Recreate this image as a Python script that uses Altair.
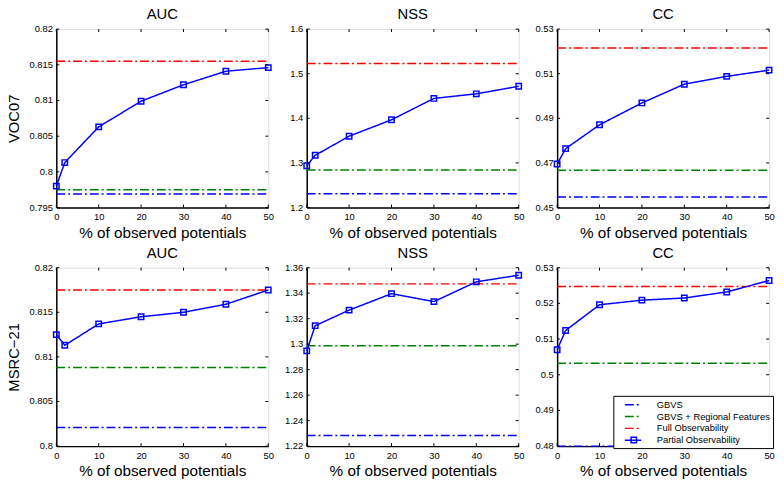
import altair as alt
import pandas as pd

# ---------------- data ----------------
x_obs = [0, 2, 10, 20, 30, 40, 50]
methods = ["GBVS", "GBVS + Regional Features", "Full Observability", "Partial Observability"]
method_colors = ["#0000FF", "#008000", "#FF0000", "#0000FF"]

datasets = ["VOC07", "MSRC\u221221"]
metrics = ["AUC", "NSS", "CC"]

# Partial observability curves
voc_auc = [0.7980, 0.8013, 0.8063, 0.8099, 0.8122, 0.8141, 0.8146]
voc_nss = [1.2936, 1.3171, 1.3599, 1.3967, 1.4446, 1.4549, 1.4718]
voc_cc = [0.4695, 0.4764, 0.4871, 0.4969, 0.5053, 0.5088, 0.5116]
msrc_auc = [0.8125, 0.8113, 0.8137, 0.8145, 0.8150, 0.8159, 0.8175]
msrc_nss = [1.2947, 1.3145, 1.3267, 1.3396, 1.3334, 1.3489, 1.3541]
msrc_cc = [0.5070, 0.5124, 0.5196, 0.5209, 0.5215, 0.5232, 0.5264]

# Baselines: [GBVS, GBVS + Regional Features, Full Observability]
voc_auc_base = [0.7969, 0.7975, 0.8155]
voc_nss_base = [1.231, 1.284, 1.523]
voc_cc_base = [0.4547, 0.4667, 0.5215]
msrc_auc_base = [0.8021, 0.8088, 0.8175]
msrc_nss_base = [1.2283, 1.2988, 1.3473]
msrc_cc_base = [0.4800, 0.5032, 0.5247]

# Axis tick values
x_ticks = [0, 10, 20, 30, 40, 50]
voc_auc_ticks = [0.795, 0.8, 0.805, 0.81, 0.815, 0.82]
voc_nss_ticks = [1.2, 1.3, 1.4, 1.5, 1.6]
voc_cc_ticks = [0.45, 0.47, 0.49, 0.51, 0.53]
msrc_auc_ticks = [0.8, 0.805, 0.81, 0.815, 0.82]
msrc_nss_ticks = [1.22, 1.24, 1.26, 1.28, 1.3, 1.32, 1.34, 1.36]
msrc_cc_ticks = [0.48, 0.49, 0.5, 0.51, 0.52, 0.53]

panels = [
    ("VOC07", "AUC", voc_auc, voc_auc_base, voc_auc_ticks),
    ("VOC07", "NSS", voc_nss, voc_nss_base, voc_nss_ticks),
    ("VOC07", "CC", voc_cc, voc_cc_base, voc_cc_ticks),
    ("MSRC\u221221", "AUC", msrc_auc, msrc_auc_base, msrc_auc_ticks),
    ("MSRC\u221221", "NSS", msrc_nss, msrc_nss_base, msrc_nss_ticks),
    ("MSRC\u221221", "CC", msrc_cc, msrc_cc_base, msrc_cc_ticks),
]

# ---------------- style ----------------
FONT = "Liberation Sans"
W, H = 215, 181
TK = 3
DASHDOT = [9, 3, 2, 3]
LINE_SYMBOL = "M-1.65,0H1.65"

color_scale = alt.Scale(domain=methods, range=method_colors)
dash_scale = alt.Scale(domain=methods, range=[DASHDOT, DASHDOT, DASHDOT, [1, 0]])
width_scale = alt.Scale(domain=methods, range=[1.5, 1.5, 1.5, 2])
marker_scale = alt.Scale(domain=[methods[3]], range=["square"])

legend = alt.Legend(
    title=None, orient="none", legendX=565, legendY=372,
    symbolType=LINE_SYMBOL, symbolSize=100, symbolStrokeWidth=1.5,
    symbolOffset=11, labelOffset=18,
    labelFont=FONT, labelFontSize=9.5, labelColor="black",
    strokeColor="black", fillColor="white", padding=3, rowPadding=1,
    labelLimit=300,
)
marker_legend = alt.Legend(
    title=None, orient="none", legendX=581, legendY=412,
    symbolSize=30, symbolStrokeWidth=1.5, symbolStrokeColor="#0000FF",
    symbolFillColor="white", padding=0, labelExpr="''", labelFontSize=9.5,
    labelFont=FONT,
)


def make_panel(ds, metric, vals, base, yticks, show_ytitle):
    rows = []
    for m, v in zip(methods[:3], base):
        rows.append({"method": m, "x": 0, "y": v})
        rows.append({"method": m, "x": 50, "y": v})
    for xv, yv in zip(x_obs, vals):
        rows.append({"method": methods[3], "x": xv, "y": yv})
    df = pd.DataFrame(rows)
    dfp = pd.DataFrame({"x": x_obs, "y": vals, "series": methods[3]})
    ydom = [min(yticks), max(yticks)]
    xscale = alt.Scale(domain=[0, 50], nice=False, zero=False)
    yscale = alt.Scale(domain=ydom, nice=False, zero=False)

    lines = alt.Chart(df).mark_line().encode(
        x=alt.X("x:Q", scale=xscale,
                axis=alt.Axis(values=x_ticks, title="% of observed potentials", ticks=False,
                              labelFont=FONT, labelFontSize=9.5, labelColor="black",
                              labelPadding=4.5, labelFlush=False, titleFont=FONT,
                              titleFontSize=15.5, titleFontWeight="normal", titleColor="black",
                              titlePadding=4, domainColor="black", domainWidth=1.5, grid=False)),
        y=alt.Y("y:Q", scale=yscale,
                axis=alt.Axis(values=yticks, title=ds if show_ytitle else None,
                              ticks=False, labels=False, titleFont=FONT, titleFontSize=15,
                              titleFontWeight="normal", titleColor="black", titlePadding=35,
                              domainColor="black", domainWidth=1.5, grid=False)),
        color=alt.Color("method:N", scale=color_scale, legend=legend),
        strokeDash=alt.StrokeDash("method:N", scale=dash_scale, legend=legend),
        strokeWidth=alt.StrokeWidth("method:N", scale=width_scale, legend=None),
    )
    pts = alt.Chart(dfp).mark_point(filled=False, size=30, strokeWidth=1.5,
                                    color="#0000FF", opacity=1).encode(
        x=alt.X("x:Q", scale=xscale),
        y=alt.Y("y:Q", scale=yscale),
        shape=alt.Shape("series:N", scale=marker_scale, legend=marker_legend),
    )
    ydf = pd.DataFrame({"y": yticks})
    xdf = pd.DataFrame({"x": x_ticks})
    ylab = alt.Chart(ydf).mark_text(align="right", baseline="middle", font=FONT,
                                    fontSize=9.5, color="black", dx=-3.5).encode(
        y=alt.Y("y:Q", scale=yscale), x=alt.value(0), text=alt.Text("y:Q", format="~g"))
    yl = alt.Chart(ydf).mark_rule(color="black", strokeWidth=1).encode(
        y=alt.Y("y:Q", scale=yscale), x=alt.value(0), x2=alt.value(TK))
    yr = alt.Chart(ydf).mark_rule(color="black", strokeWidth=1).encode(
        y=alt.Y("y:Q", scale=yscale), x=alt.value(W - TK), x2=alt.value(W))
    xb = alt.Chart(xdf).mark_rule(color="black", strokeWidth=1).encode(
        x=alt.X("x:Q", scale=xscale), y=alt.value(H), y2=alt.value(H - TK))
    xt = alt.Chart(xdf).mark_rule(color="black", strokeWidth=1).encode(
        x=alt.X("x:Q", scale=xscale), y=alt.value(0), y2=alt.value(TK))

    return alt.layer(lines, pts, ylab, yl, yr, xb, xt).properties(
        width=W, height=H,
        title=alt.TitleParams(metric, font=FONT, fontSize=15, fontWeight="normal",
                              color="black", offset=2),
    )


charts = []
for i, (ds, metric, vals, base, yt) in enumerate(panels):
    charts.append(make_panel(ds, metric, vals, base, yt, i % 3 == 0))

chart = alt.concat(*charts, columns=3, spacing={"row": 61, "column": 39}, bounds="flush").properties(
    padding={"left": -2, "top": -5, "right": 0, "bottom": 0}
).configure_view(stroke="black", strokeWidth=1).configure(background="white")

chart.save("out.html", embed_options={"renderer": "svg", "actions": False})
